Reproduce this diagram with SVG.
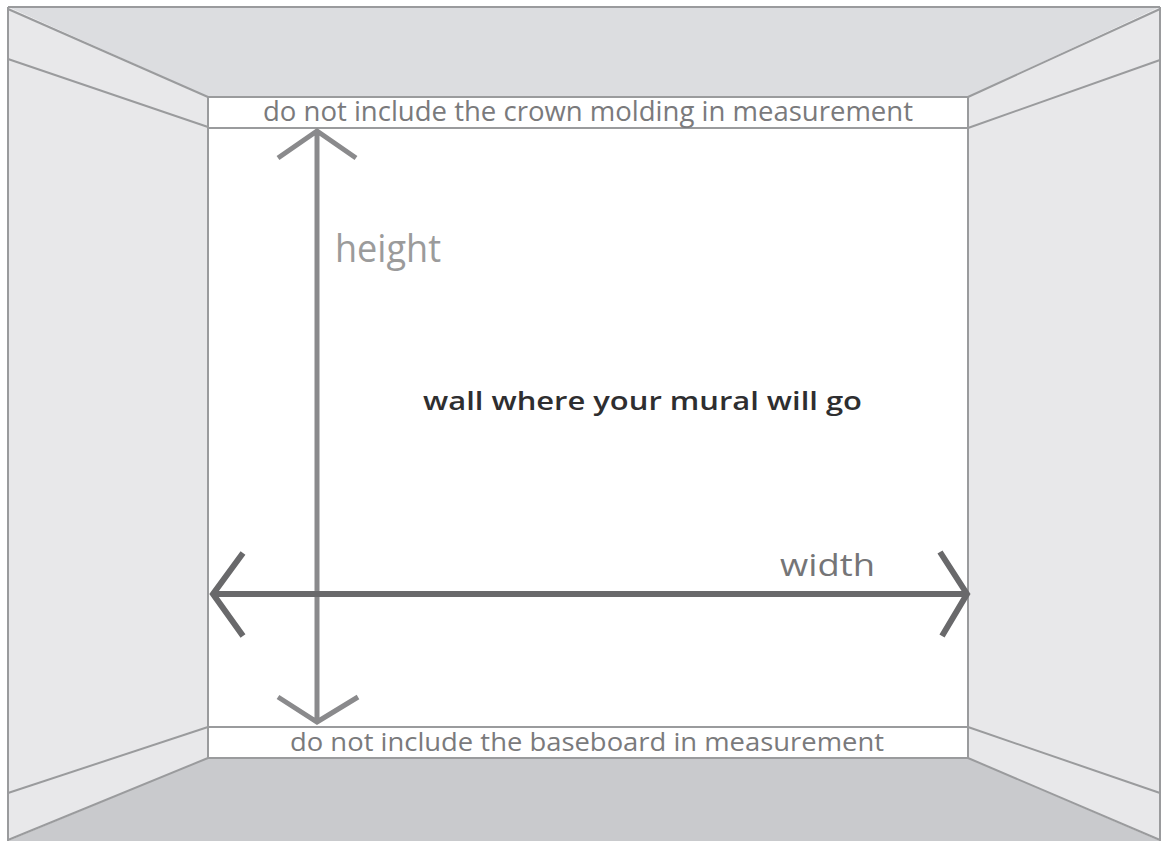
<svg xmlns="http://www.w3.org/2000/svg" width="1163" height="841" viewBox="0 0 1163 841">
<style>
.ln{stroke:#9a9b9d;stroke-width:2;fill:none}
.t{font-family:"Open Sans","Liberation Sans",sans-serif}
.arrH{stroke:#8a8a8c;stroke-width:5;fill:none;stroke-linecap:butt}
.arrW{stroke:#69696b;stroke-width:6;fill:none}
</style>
<rect width="1163" height="841" fill="#ffffff"/>
<g id="room">
<polygon id="ceiling" points="8,7 1160,7 968,97 208,97" fill="#dcdde0"/>
<polygon id="left-wall" points="8,7 208,97 208,758 8,840" fill="#e8e8ea"/>
<polygon id="right-wall" points="1160,7 968,97 968,758 1160,840" fill="#e8e8ea"/>
<polygon id="floor" points="208,758 968,758 1160,841 8,841" fill="#c9cacd"/>
<rect id="back-wall" x="208" y="97" width="760" height="661" fill="#ffffff"/>
<line class="ln" x1="8" y1="7" x2="1160" y2="7"/>
<line class="ln" x1="8" y1="7" x2="8" y2="841"/>
<line class="ln" x1="1160" y1="7" x2="1160" y2="841"/>
<line class="ln" x1="8" y1="9" x2="208" y2="97"/>
<line class="ln" x1="8" y1="59" x2="208" y2="127"/>
<line class="ln" x1="1160" y1="9" x2="968" y2="97"/>
<line class="ln" x1="1160" y1="60" x2="968" y2="128"/>
<line class="ln" x1="8" y1="793" x2="208" y2="727"/>
<line class="ln" x1="8" y1="840" x2="208" y2="758"/>
<line class="ln" x1="1160" y1="793" x2="968" y2="727"/>
<line class="ln" x1="1160" y1="840" x2="968" y2="758"/>
<rect class="ln" x="208" y="97" width="760" height="661"/>
<line class="ln" x1="208" y1="128" x2="968" y2="128"/>
<line class="ln" x1="208" y1="727" x2="968" y2="727"/>
</g>
<g id="connectors">
<path id="height-arrow" class="arrH" d="M317,132 V721 M278,158 L317,131 L356,158 M278,697 L317,722 L358,697"/>
<path id="width-arrow" class="arrW" d="M214,594 H966 M243,553 L213,594 L243,636 M940,552 L967,594 L942,636"/>
</g>
<g id="labels">
<text class="t" x="263" y="121" font-size="27" fill="#7a7a7c" textLength="650" lengthAdjust="spacingAndGlyphs">do not include the crown molding in measurement</text>
<text class="t" x="290" y="751" font-size="25" fill="#7a7a7c" textLength="594" lengthAdjust="spacingAndGlyphs">do not include the baseboard in measurement</text>
<text class="t" x="335" y="262" font-size="38" fill="#9b9b9b" textLength="106" lengthAdjust="spacingAndGlyphs">height</text>
<text class="t" x="423" y="410" font-size="26" font-weight="600" fill="#2e2e30" textLength="439" lengthAdjust="spacingAndGlyphs">wall where your mural will go</text>
<text class="t" x="780" y="576" font-size="31" fill="#757577" textLength="95" lengthAdjust="spacingAndGlyphs">width</text>
</g>
</svg>
